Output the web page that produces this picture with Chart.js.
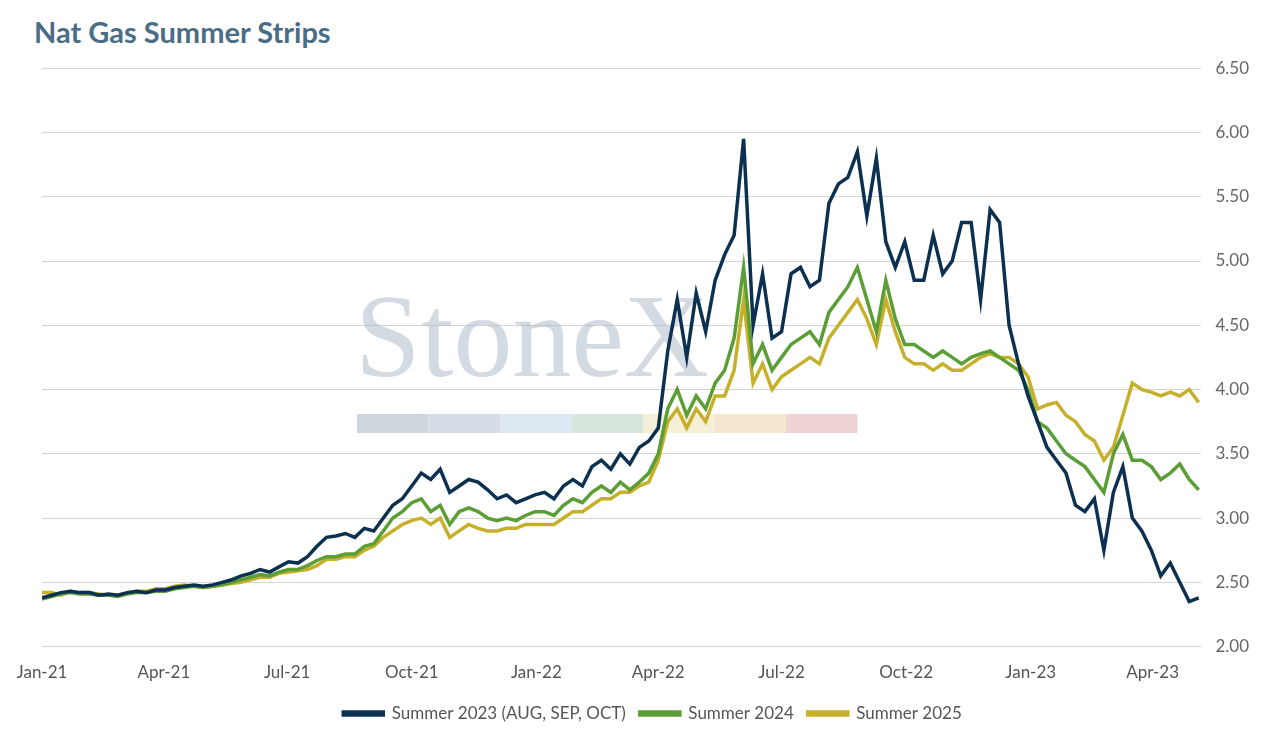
<!DOCTYPE html>
<html><head><meta charset="utf-8">
<script src="https://cdn.jsdelivr.net/npm/chart.js@4"></script>
<style>body{margin:0;background:#fff;font-family:Lato,sans-serif}
#t{position:absolute;left:34px;top:14px;font:bold 29px Lato;color:#4a6d87}
#w{position:absolute;left:0;top:44px;width:1271px;height:688px}</style></head>
<body><div id="t">Nat Gas Summer Strips</div><div id="w"><canvas id="c"></canvas></div>
<script>
const tickDays=[0,90,181,273,365,455,546,638,730,820];
const tickLabels=["Jan-21","Apr-21","Jul-21","Oct-21","Jan-22","Apr-22","Jul-22","Oct-22","Jan-23","Apr-23"];
const s2023=[2.38,2.40,2.42,2.43,2.42,2.42,2.40,2.41,2.40,2.42,2.43,2.42,2.44,
2.44,2.46,2.47,2.48,2.47,2.48,2.50,2.52,2.55,2.57,2.60,2.58,2.62,
2.66,2.65,2.70,2.78,2.85,2.86,2.88,2.85,2.92,2.90,3.00,3.10,3.15,
3.25,3.35,3.30,3.38,3.20,3.25,3.30,3.28,3.22,3.15,3.18,3.12,3.15,
3.18,3.20,3.15,3.25,3.30,3.25,3.40,3.45,3.38,3.50,3.42,3.55,3.60,
3.70,4.30,4.70,4.25,4.75,4.45,4.85,5.05,5.20,5.95,4.50,4.90,4.40,
4.45,4.90,4.95,4.80,4.85,5.45,5.60,5.65,5.85,5.35,5.80,5.15,4.95,
5.15,4.85,4.85,5.20,4.90,5.00,5.30,5.30,4.70,5.40,5.30,4.50,4.20,
3.95,3.75,3.55,3.45,3.35,3.10,3.05,3.15,2.75,3.20,3.40,3.00,2.90,
2.75,2.55,2.65,2.50,2.35,2.38];
const s2024=[2.37,2.39,2.41,2.42,2.41,2.41,2.40,2.40,2.39,2.41,2.42,2.42,2.43,
2.43,2.45,2.46,2.47,2.46,2.47,2.48,2.50,2.52,2.54,2.56,2.55,2.58,
2.60,2.60,2.63,2.67,2.70,2.70,2.72,2.72,2.78,2.80,2.90,3.00,3.05,
3.12,3.15,3.05,3.10,2.95,3.05,3.08,3.05,3.00,2.98,3.00,2.98,3.02,
3.05,3.05,3.02,3.10,3.15,3.12,3.20,3.25,3.20,3.28,3.22,3.28,3.35,
3.50,3.85,4.00,3.80,3.95,3.85,4.05,4.15,4.40,4.95,4.20,4.35,4.15,
4.25,4.35,4.40,4.45,4.35,4.60,4.70,4.80,4.95,4.70,4.45,4.85,4.55,
4.35,4.35,4.30,4.25,4.30,4.25,4.20,4.25,4.28,4.30,4.25,4.20,4.15,
4.00,3.75,3.70,3.60,3.50,3.45,3.40,3.30,3.20,3.50,3.65,3.45,3.45,
3.40,3.30,3.35,3.42,3.30,3.22];
const s2025=[2.42,2.42,2.40,2.43,2.42,2.42,2.41,2.40,2.40,2.42,2.43,2.43,2.45,
2.45,2.47,2.48,2.47,2.46,2.47,2.48,2.49,2.50,2.52,2.54,2.54,2.57,
2.58,2.59,2.60,2.63,2.68,2.68,2.70,2.70,2.75,2.78,2.85,2.90,2.95,
2.98,3.00,2.95,3.00,2.85,2.90,2.95,2.92,2.90,2.90,2.92,2.92,2.95,
2.95,2.95,2.95,3.00,3.05,3.05,3.10,3.15,3.15,3.20,3.20,3.25,3.28,
3.45,3.75,3.85,3.70,3.85,3.75,3.95,3.95,4.15,4.70,4.05,4.20,4.00,
4.10,4.15,4.20,4.25,4.20,4.40,4.50,4.60,4.70,4.55,4.35,4.70,4.45,
4.25,4.20,4.20,4.15,4.20,4.15,4.15,4.20,4.25,4.28,4.25,4.25,4.20,
4.10,3.85,3.88,3.90,3.80,3.75,3.65,3.60,3.45,3.55,3.80,4.05,4.00,
3.98,3.95,3.98,3.95,4.00,3.90];
const pts=a=>a.map((v,i)=>({x:i*7,y:v}));
const wm={id:'wm',beforeDatasetsDraw(ch){const c=ch.ctx;c.save();
c.fillStyle='rgba(170,182,198,0.5)';c.font='118px "Liberation Serif"';c.textBaseline='alphabetic';
c.fillText('StoneX',355,332);
const cols=['#cfd6de','#d5dee8','#dde9f2','#d7e6da','#f4f0d8','#f6e6cf','#efd3d5'];
cols.forEach((k,i)=>{c.fillStyle=k;c.fillRect(357+i*71.5,370,71.5,19);});c.restore();}};
const ds=(l,d,col)=>({label:l,data:pts(d),borderColor:col,backgroundColor:col,borderWidth:3.5,pointRadius:0,tension:0});
new Chart(document.getElementById('c'),{type:'line',
data:{datasets:[ds('Summer 2023 (AUG, SEP, OCT)',s2023,'#0c3050'),ds('Summer 2024',s2024,'#5a9e35'),ds('Summer 2025',s2025,'#c6b02a')]},
options:{responsive:true,maintainAspectRatio:false,animation:false,
layout:{padding:{left:42,right:8,top:12,bottom:0}},
plugins:{legend:{position:'bottom',labels:{boxWidth:40,boxHeight:3,padding:14,color:'#555',font:{family:'Lato',size:17}}},tooltip:{enabled:false}},
scales:{x:{type:'linear',min:0,max:856,afterBuildTicks:s=>{s.ticks=tickDays.map(v=>({value:v}));},
ticks:{callback:(v)=>tickLabels[tickDays.indexOf(v)],color:'#555',font:{family:'Lato',size:17},maxRotation:0,padding:8},
grid:{display:false},border:{display:false}},
y:{position:'right',min:2,max:6.5,ticks:{stepSize:0.5,callback:v=>v.toFixed(2),color:'#666',font:{family:'Lato',size:17},padding:14},
grid:{color:'#d4d4d4',drawTicks:false},border:{display:false}}}},plugins:[wm]});
</script></body></html>
